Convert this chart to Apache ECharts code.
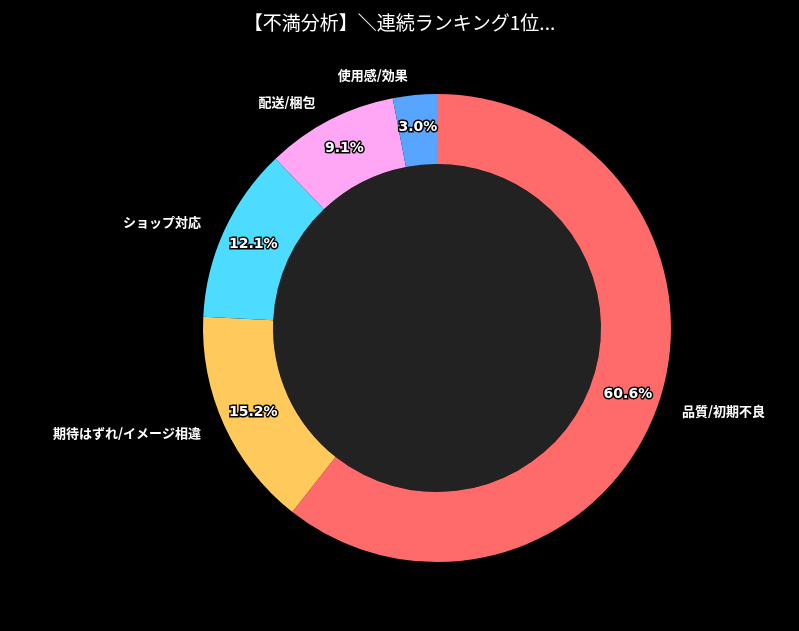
<!DOCTYPE html>
<html><head><meta charset="utf-8">
<script src="https://cdn.jsdelivr.net/npm/echarts@6/dist/echarts.min.js"></script>
<style>html,body{margin:0;background:#000}#c{width:799px;height:631px}</style>
</head><body><div id="c"></div>
<script>
const categories = ['品質/初期不良','期待はずれ/イメージ相違','ショップ対応','配送/梱包','使用感/効果'];
const values = [20,5,4,3,1];
const colors = ['#ff6b6b','#ffc95c','#4ddcff','#ffa6f5','#58a5ff'];
const data = categories.map((n,i)=>({name:n,value:values[i],itemStyle:{color:colors[i]}}));
const chart = echarts.init(document.getElementById('c'));
const center = ['437','328'];
chart.setOption({
  backgroundColor:'#000',
  title:{text:'【不満分析】＼連続ランキング1位...',left:'center',top:8,textStyle:{color:'#fff',fontSize:19,fontWeight:'normal',fontFamily:'Noto Sans CJK JP'}},
  series:[
    {type:'pie',silent:true,radius:[0,164],center:center,data:[{value:1,itemStyle:{color:'#222'}}],label:{show:false},labelLine:{show:false},z:1},
    {type:'pie',radius:[164,234],center:center,startAngle:90,clockwise:true,data:data,
     itemStyle:{borderColor:'#000',borderWidth:0},
     label:{position:'inside',formatter:p=>p.percent.toFixed(1)+'%',color:'#fff',fontWeight:'bold',fontSize:14,textBorderColor:'#000',textBorderWidth:3,fontFamily:'DejaVu Sans'},z:2},
    {type:'pie',silent:true,radius:[164,234],center:center,startAngle:90,clockwise:true,data:data.map(d=>({name:d.name,value:d.value,itemStyle:{color:'transparent'}})),
     label:{position:'outside',color:'#fff',fontWeight:'bold',fontSize:13,fontFamily:'Noto Sans CJK JP',textBorderColor:'#000',textBorderWidth:2},
     labelLine:{show:false,length:20,length2:0},z:3}
  ]
});
</script></body></html>
